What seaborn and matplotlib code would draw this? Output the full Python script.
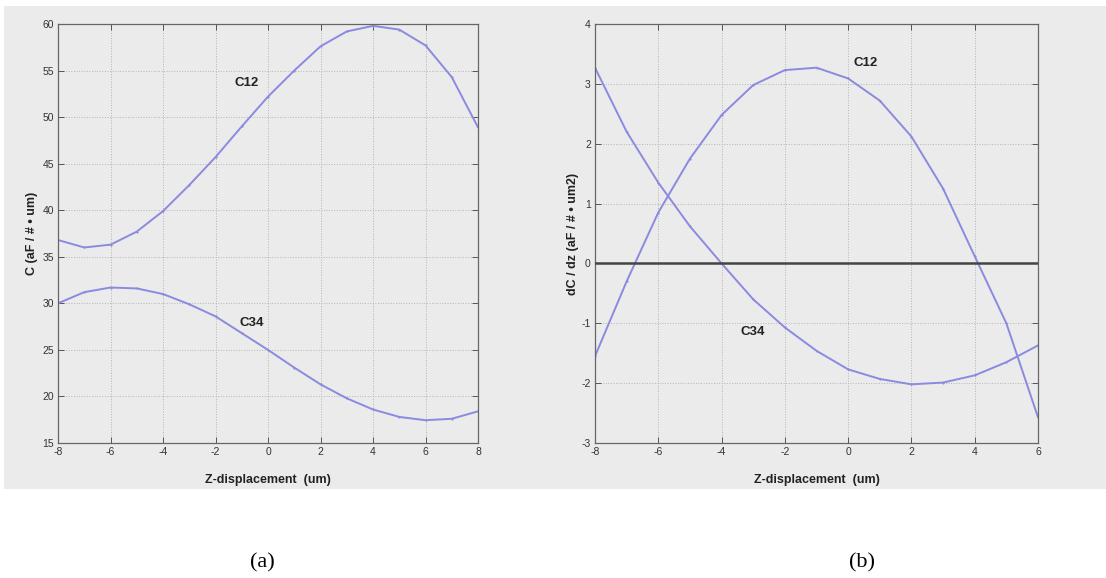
import matplotlib
matplotlib.use("Agg")
import matplotlib.pyplot as plt
from matplotlib.patches import Rectangle
import pandas as pd
import seaborn as sns

# ---- data -------------------------------------------------------------
z_a = [-8, -7, -6, -5, -4, -3, -2, -1, 0, 1, 2, 3, 4, 5, 6, 7, 8]
c12 = [36.8, 36.0, 36.3, 37.7, 39.9, 42.7, 45.7, 49.0, 52.2, 55.0, 57.6,
       59.2, 59.8, 59.4, 57.7, 54.3, 48.9]
c34 = [30.0, 31.2, 31.7, 31.6, 31.0, 29.9, 28.6, 26.8, 25.0, 23.1, 21.3,
       19.8, 18.6, 17.8, 17.45, 17.6, 18.4]

z_b = [-8, -7, -6, -5, -4, -3, -2, -1, 0, 1, 2, 3, 4, 5, 6]
dc12 = [-1.55, -0.3, 0.85, 1.75, 2.48, 2.98, 3.23, 3.27, 3.09, 2.72, 2.12,
        1.25, 0.12, -1.0, -2.57]
dc34 = [3.27, 2.2, 1.35, 0.62, 0.0, -0.6, -1.07, -1.46, -1.77, -1.93, -2.02,
        -1.99, -1.87, -1.65, -1.37]

xticks_a = [-8, -6, -4, -2, 0, 2, 4, 6, 8]
yticks_a = [15, 20, 25, 30, 35, 40, 45, 50, 55, 60]
xticks_b = [-8, -6, -4, -2, 0, 2, 4, 6]
yticks_b = [-3, -2, -1, 0, 1, 2, 3, 4]

xlabel = "Z-displacement  (um)"
ylabel_a = "C (aF / # \u2022 um)"
ylabel_b = "dC / dz (aF / # \u2022 um2)"

# ---- style ------------------------------------------------------------
sns.set_theme(style="ticks")
plt.rcParams["font.family"] = ["Liberation Sans", "DejaVu Sans"]

LINE = "#8a8ae0"
BG = "#ebebeb"

fig = plt.figure(figsize=(11.06, 5.78), dpi=100)
fig.patch.set_facecolor("white")
fig.patches.append(Rectangle((4 / 1106, 89 / 578), 1 - 4 / 1106, 483 / 578,
                             transform=fig.transFigure, facecolor=BG,
                             edgecolor="none", zorder=-5))

ax_a = fig.add_axes([58 / 1106, 1 - 443 / 578, 420 / 1106, 419 / 578])
ax_b = fig.add_axes([595 / 1106, 1 - 443 / 578, 443 / 1106, 419 / 578])

df_a = pd.DataFrame({"z": z_a * 2, "C": c12 + c34,
                     "curve": ["C12"] * len(z_a) + ["C34"] * len(z_a)})
df_b = pd.DataFrame({"z": z_b * 2, "dC": dc12 + dc34,
                     "curve": ["C12"] * len(z_b) + ["C34"] * len(z_b)})

sns.lineplot(data=df_a, x="z", y="C", hue="curve", palette=[LINE, LINE],
             ax=ax_a, legend=False, linewidth=1.4, marker="o", markersize=1.6,
             markeredgewidth=0, sort=False, estimator=None)
sns.lineplot(data=df_b, x="z", y="dC", hue="curve", palette=[LINE, LINE],
             ax=ax_b, legend=False, linewidth=1.4, marker="o", markersize=1.6,
             markeredgewidth=0, sort=False, estimator=None)
ax_b.axhline(0, color="#444444", linewidth=1.8, zorder=3)


def style_axes(ax, xt, yt):
    ax.set_facecolor(BG)
    ax.set_xlim(xt[0], xt[-1])
    ax.set_ylim(yt[0], yt[-1])
    ax.set_xticks(xt)
    ax.set_yticks(yt)
    ax.set_xticklabels([str(v) for v in xt])
    ax.set_yticklabels([str(v) for v in yt])
    ax.grid(True, color="#b4b4b4", linestyle=":", linewidth=0.7)
    ax.tick_params(direction="in", length=4, width=0.7, color="#555555",
                   labelsize=7.5, labelcolor="#333333", top=True, right=True,
                   pad=3)
    for s in ax.spines.values():
        s.set_color("#666666")
        s.set_linewidth(0.9)
        s.set_visible(True)
    ax.set_xlabel(xlabel, fontsize=9, fontweight="bold", color="#222222",
                  labelpad=12)


style_axes(ax_a, xticks_a, yticks_a)
style_axes(ax_b, xticks_b, yticks_b)
ax_a.set_ylabel(ylabel_a, fontsize=9, fontweight="bold", color="#222222",
                labelpad=3)
ax_b.set_ylabel(ylabel_b, fontsize=9, fontweight="bold", color="#222222",
                labelpad=2)

ax_a.text(-0.8, 53.7, "C12", fontsize=9.5, fontweight="bold", ha="center",
          va="center", color="#222222")
ax_a.text(-0.6, 27.9, "C34", fontsize=9.5, fontweight="bold", ha="center",
          va="center", color="#222222")
ax_b.text(0.55, 3.35, "C12", fontsize=9.5, fontweight="bold", ha="center",
          va="center", color="#222222")
ax_b.text(-3.0, -1.14, "C34", fontsize=9.5, fontweight="bold", ha="center",
          va="center", color="#222222")

fig.text(262 / 1106, 1 - 563 / 578, "(a)", family="Liberation Serif",
         fontsize=16, ha="center", va="center", color="black")
fig.text(862 / 1106, 1 - 563 / 578, "(b)", family="Liberation Serif",
         fontsize=16, ha="center", va="center", color="black")

fig.savefig("out.png", dpi=100, facecolor=fig.get_facecolor())
